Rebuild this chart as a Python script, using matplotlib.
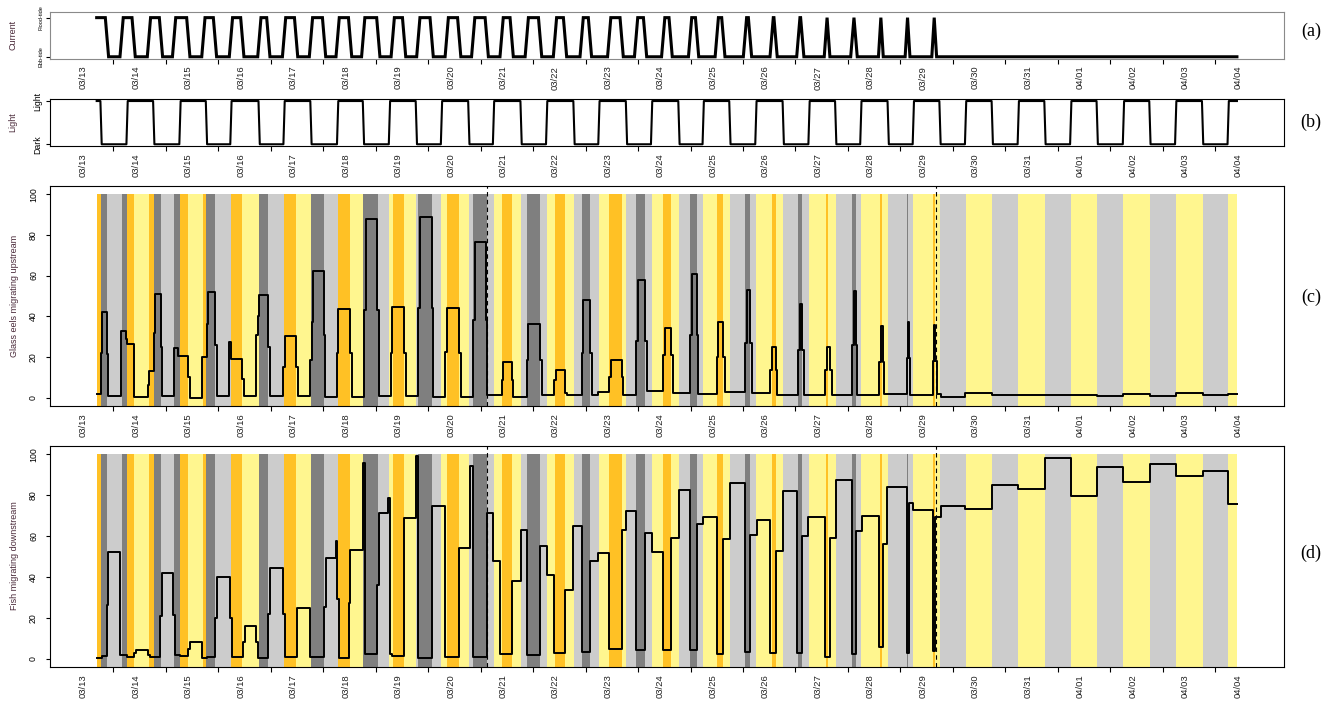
import numpy as np
import matplotlib.pyplot as plt

plt.rcParams['font.family'] = ['Liberation Sans', 'DejaVu Sans']

W, H = 1325, 702

# time axis: hours since 13 March 00:00
t_start, t_end = 16.4, 537.9
day_labels = ['03/%02d' % d for d in range(13, 32)] + ['04/%02d' % d for d in range(1, 5)]

# flood tide periods (hours)
flood_start = [16.4, 27.8, 40.3, 51.8, 65.2, 77.8, 90.8, 102.1, 114.4, 126.6, 138.3,
               151.8, 163.5, 176.5, 188.6, 201.6, 213.1, 226.0, 238.2, 250.8, 263.1,
               275.5, 287.8, 300.0, 312.9, 325.1, 337.3, 349.9, 362.0, 374.7, 386.9, 399.1]
flood_end = [21.1, 33.3, 45.8, 58.3, 70.5, 83.0, 94.9, 107.6, 120.4, 132.3, 145.2,
             157.0, 169.6, 182.2, 194.8, 206.2, 219.2, 230.6, 242.0, 256.5, 267.2,
             278.9, 291.0, 303.0, 315.2, 326.9, 339.1, 351.0, 363.5, 375.4, 387.6, 399.8]

# dusk (evenings 03/13..04/03) and dawn (mornings 03/14..04/04), hour of day
dusk = [18.4, 18.5, 18.6, 18.7, 18.4, 18.4, 18.6, 18.6, 18.5, 18.7, 18.7,
        18.7, 18.0, 18.4, 18.4, 18.4, 18.1, 18.0, 18.1, 18.0, 18.1, 18.2]
dawn = [6.3, 6.5, 5.8, 6.1, 6.6, 6.3, 6.1, 5.9, 6.2, 6.1, 6.2,
        5.8, 5.9, 6.2, 5.9, 5.9, 5.8, 5.9, 5.9, 6.0, 5.9, 5.9]

# glass eels migrating upstream (step values, start time in hours)
eel_t = [16.4, 18.4, 19.0, 21.1, 21.7, 27.4, 29.8, 30.3, 33.3, 39.7, 40.3, 42.5, 43.1,
         45.8, 46.4, 51.8, 53.7, 58.3, 59.1, 64.4, 66.7, 67.1, 70.5, 71.3, 77.1, 77.7,
         83.0, 83.6, 89.3, 90.0, 90.8, 94.9, 95.5, 101.8, 102.5, 107.6, 108.3, 114.0,
         114.7, 115.5, 120.4, 121.0, 126.2, 126.9, 132.3, 133.0, 138.7, 139.4, 144.7,
         145.5, 150.9, 151.6, 157.0, 157.7, 163.5, 164.3, 169.6, 170.4, 175.7, 176.5,
         182.2, 183.0, 188.6, 189.4, 194.5, 195.1, 201.6, 202.4, 206.2, 206.9, 213.1,
         213.8, 219.2, 219.9, 225.6, 226.3, 230.6, 231.4, 238.2, 239.0, 242.0, 242.8,
         245.8, 250.9, 251.6, 256.5, 257.3, 263.1, 263.8, 267.2, 268.0, 275.6, 276.3,
         278.9, 279.8, 287.8, 288.5, 290.8, 291.6, 300.0, 300.7, 303.0, 303.8, 312.9,
         313.7, 315.2, 316.0, 324.4, 325.1, 327.0, 327.7, 337.3, 338.1, 339.1, 339.9,
         349.5, 350.3, 351.8, 352.6, 362.0, 362.8, 363.5, 364.3, 374.3, 375.0, 375.9,
         376.5, 386.9, 387.3, 387.9, 388.4, 399.0, 399.5, 399.9, 400.6, 402.6, 413.5,
         426.0, 437.9, 474.0, 485.9, 498.1, 509.9, 522.2, 534.0]
eel_v = [1.8, 21.8, 42, 21.5, 1, 32.5, 28.7, 26.2, 0.2, 6, 13, 31.6, 51.1,
         25, 0.8, 24.6, 20.6, 10, 0, 20, 36, 52, 26, 1, 27.5, 19,
         9, 0.8, 31, 40, 50.5, 25, 0.8, 15, 30.3, 15, 0.8, 18.5,
         37, 62, 31, 0.3, 22, 43.6, 22, 0.5, 43, 87.7, 43,
         0.8, 22, 44.4, 22, 0.8, 44, 89, 44, 0.5, 22.6, 44,
         22, 0.2, 38, 76.7, 38, 1.3, 8.7, 17.7, 8.7, 0.5, 18.5,
         36, 18.5, 1.3, 8.7, 13.6, 2, 1.3, 22, 48, 22, 1.3,
         2.5, 10, 18.5, 10, 1.3, 28, 57.9, 28, 3.4, 21, 34,
         21, 2.1, 30.8, 60.8, 30.8, 1.8, 20, 37, 20, 2.8, 26.7,
         53, 26.7, 2.1, 13.6, 25, 13.6, 1.1, 23.4, 46, 23.4, 1.1,
         13.6, 25, 13.6, 1.1, 26, 52.6, 26, 1.1, 17.7, 35, 17.7,
         1.6, 19.3, 36.9, 19.3, 1.3, 18, 35.7, 18, 1.6, 0.2, 2.1,
         1.1, 1.5, 0.7, 1.6, 0.7, 2.1, 1.1, 1.6]

# fish migrating downstream
fish_t = [16.4, 18.7, 21.0, 21.7, 27.1, 30.1, 33.6, 34.3, 40.0, 40.8, 45.4, 46.1, 51.4,
          52.2, 54.5, 58.3, 59.1, 64.4, 66.7, 70.5, 71.3, 77.4, 78.2, 83.5, 84.2, 89.3,
          90.0, 94.9, 95.7, 101.8, 102.5, 107.9, 114.0, 120.4, 121.1, 125.9, 126.5, 127.1,
          131.9, 132.3, 138.3, 139.1, 144.7, 145.5, 149.8, 150.6, 151.6, 157.0, 162.3,
          163.5, 169.6, 175.7, 182.3, 187.1, 188.6, 194.8, 197.8, 200.9, 206.2, 210.3,
          213.1, 219.2, 222.2, 225.6, 230.6, 234.1, 238.2, 242.0, 245.8, 250.9, 256.5,
          258.5, 263.1, 267.2, 270.2, 275.6, 278.9, 282.9, 287.8, 290.8, 293.8, 300.0,
          303.0, 306.1, 312.7, 315.2, 318.3, 324.4, 327.0, 330.4, 336.6, 339.1, 341.9,
          349.5, 351.8, 354.4, 362.0, 363.5, 366.3, 374.3, 375.9, 378.0, 386.9, 387.9,
          389.9, 399.0, 399.8, 402.4, 413.5, 426.0, 437.9, 450.1, 461.9, 474.0, 485.9,
          498.1, 509.9, 522.2, 534.0]
fish_v = [0.2, 1.1, 26.4, 52, 1.5, 0.8, 2.8, 4.4, 1.5, 0.8, 20.7, 41.9, 21.5,
          1.5, 1.1, 4.7, 8.3, 0.2, 0.8, 20, 39.7, 20, 0.8, 8, 15.8, 8,
          0.3, 22, 44.3, 22, 0.8, 24.8, 0.8, 25, 49, 57.3, 29, 0.2,
          27, 52.9, 95.9, 2, 36, 71.2, 78.5, 2, 1.1, 68.7, 99,
          0.3, 74.8, 0.8, 54, 94, 0.8, 71, 47.5, 2, 37.8, 62.7,
          1.5, 55.2, 41, 2.8, 33.4, 65, 3.1, 47.5, 51.6, 4.7, 63,
          72.3, 4.4, 61.4, 52, 4.4, 59, 82.6, 4.1, 66, 69.5, 2,
          58.6, 85.8, 3.4, 60.3, 67.9, 2.8, 52.8, 82.2, 2.8, 60.1, 69.2,
          0.8, 59, 87.5, 2, 62.2, 69.9, 5.7, 56.2, 83.9, 2.8, 76,
          72.8, 3.6, 69.2, 74.4, 73.1, 84.7, 83.1, 98, 79.3, 93.6, 86.6,
          95.3, 89.4, 91.9, 75.7]

tide_stop = [195.0, 400.1]

ORANGE, YELLOW, DGRAY, LGRAY = '#FFC125', '#FFF68F', '#7F7F7F', '#CCCCCC'
XLIM = (-4.95, 559.2)
nights = [(24 * k + dusk[k], 24 * (k + 1) + dawn[k]) for k in range(len(dusk))]

fig = plt.figure(figsize=(W / 100, H / 100), dpi=100)


def px_axes(l, t, r, b):
    return fig.add_axes([l / W, 1 - b / H, (r - l) / W, (b - t) / H])


def day_axis(ax, pad_pt=5.2):
    ax.set_xlim(*XLIM)
    ax.set_xticks([24 * k for k in range(1, 23)])
    ax.tick_params(axis='x', length=3.4, width=0.8, labelbottom=False)
    ax.tick_params(axis='y', length=2.6, width=0.8)
    for k, lab in enumerate(day_labels):
        ax.annotate(lab, xy=(24 * k + 10.3, 0), xycoords=('data', 'axes fraction'),
                    xytext=(0, -pad_pt), textcoords='offset points', rotation=90,
                    ha='center', va='top', fontsize=6.8, color='#222222')


def background(ax):
    edges = [t_start, t_end] + flood_start + flood_end + [x for n in nights for x in n]
    edges = sorted(set(e for e in edges if t_start <= e <= t_end))
    colors = {(True, False): ORANGE, (False, False): YELLOW,
              (True, True): DGRAY, (False, True): LGRAY}
    for x0, x1 in zip(edges[:-1], edges[1:]):
        mid = 0.5 * (x0 + x1)
        fl = any(s <= mid < e for s, e in zip(flood_start, flood_end))
        nt = any(a <= mid < b for a, b in nights)
        ax.fill_between([x0, x1], -10, 100, color=colors[(fl, nt)], lw=0, antialiased=False)
    for x in tide_stop:
        ax.axvline(x, color='black', lw=0.8, ls=(0, (4, 3)))


# (a) current
ax_a = px_axes(50, 12, 1283.5, 58.5)
r = 0.75
tx, ty = [t_start], [1]
for i, (s, e) in enumerate(zip(flood_start, flood_end)):
    a = min(r, (e - s) / 2)
    if i > 0:
        tx += [s - r, s + a]
        ty += [0, 1]
    tx += [e - a, e + r]
    ty += [1, 0]
tx.append(t_end)
ty.append(0)
ax_a.plot(tx, ty, color='black', lw=2.2, solid_joinstyle='miter')
ax_a.set_ylim(-0.044, 1.144)
ax_a.set_yticks([0, 1])
ax_a.set_yticklabels(['Ebb-tide', 'Flood-tide'], fontsize=4, rotation=90, va='center')
ax_a.tick_params(axis='y', pad=2)
for sp in ax_a.spines.values():
    sp.set_color('#8a8a8a')
day_axis(ax_a)

# (b) light
ax_b = px_axes(50, 99.3, 1283.5, 146)
r = 0.3
lx, ly = [t_start], [1]
for a, b in nights:
    lx += [a - r, a + r, b - r, b + r]
    ly += [1, 0, 0, 1]
lx.append(t_end)
ly.append(1)
ax_b.plot(lx, ly, color='black', lw=1.5)
ax_b.set_ylim(-0.04, 1.04)
ax_b.set_yticks([0, 1])
ax_b.set_yticklabels(['Dark', 'Light'], fontsize=6.3, rotation=90, va='center')
ax_b.tick_params(axis='y', pad=3)
day_axis(ax_b)

# (c) glass eels and (d) fish
for top, bot, tt, vv in [(186, 405.7, eel_t, eel_v), (446, 666.7, fish_t, fish_v)]:
    ax = px_axes(50, top, 1283.5, bot)
    background(ax)
    ax.step(tt + [t_end], vv + [vv[-1]], where='post', color='black', lw=1.4)
    ax.set_ylim(-4, 104)
    ax.set_yticks(range(0, 101, 20))
    ax.set_yticklabels([str(v) for v in range(0, 101, 20)], fontsize=6.3, rotation=90, va='center')
    ax.tick_params(axis='y', pad=6)
    day_axis(ax)

ylab = dict(rotation=90, ha='center', va='center', fontsize=6.5, color='#4a2a3a')
fig.text(13 / W, 1 - 35 / H, 'Current', **ylab)
fig.text(13 / W, 1 - 122 / H, 'Light', **ylab)
fig.text(15 / W, 1 - 296 / H, 'Glass eels migrating upstream', **ylab)
fig.text(15 / W, 1 - 556 / H, 'Fish migrating downstream', **ylab)

plab = dict(ha='center', va='center', fontsize=13, family=['Liberation Serif', 'DejaVu Serif'])
fig.text(1311 / W, 1 - 31 / H, '(a)', **plab)
fig.text(1311 / W, 1 - 122 / H, '(b)', **plab)
fig.text(1311 / W, 1 - 297 / H, '(c)', **plab)
fig.text(1311 / W, 1 - 553 / H, '(d)', **plab)

fig.savefig('out.png', dpi=100)
